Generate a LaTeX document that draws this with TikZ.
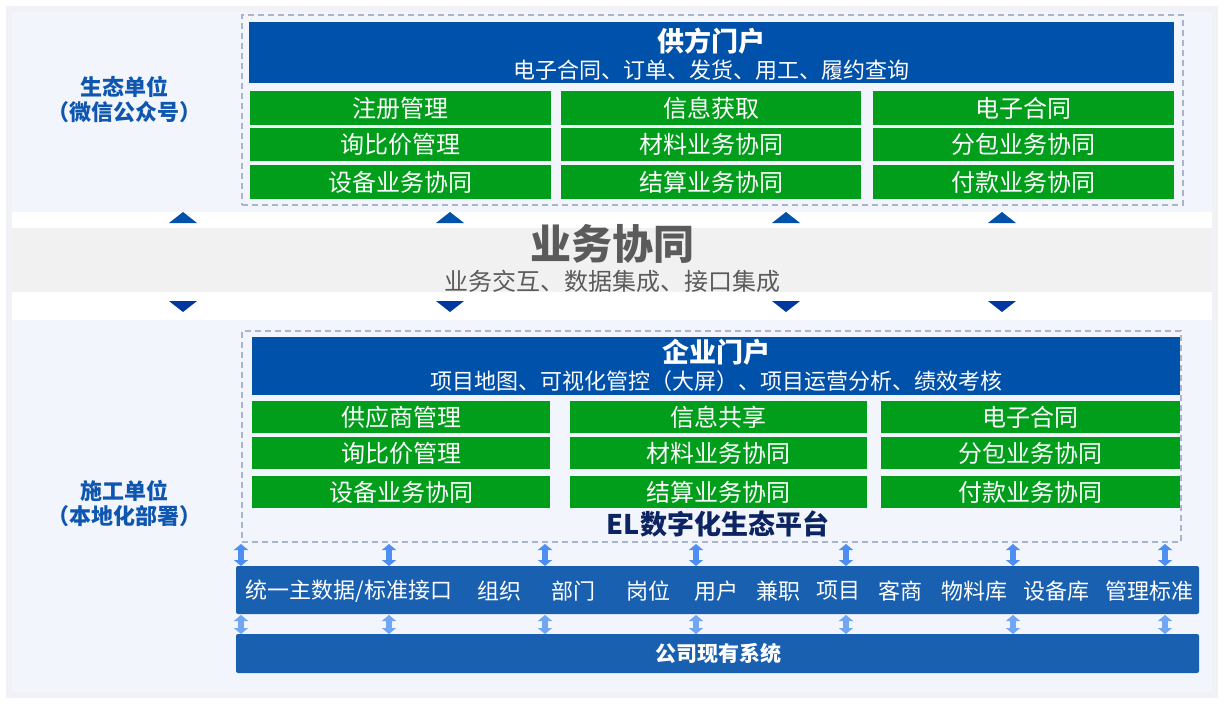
\documentclass[tikz,border=0pt]{standalone}
\usepackage{fontspec}
\setmainfont{Noto Sans CJK SC}
\usetikzlibrary{arrows.meta}

\definecolor{hdblue}{HTML}{0051A9}
\definecolor{cellgreen}{HTML}{009E1A}
\definecolor{barblue}{HTML}{1A60B0}
\definecolor{panelbg}{HTML}{F2F5FB}
\definecolor{shadowgray}{HTML}{F0F2F5}
\definecolor{bandgray}{HTML}{F1F1F1}
\definecolor{dashgray}{HTML}{A9B5CD}
\definecolor{linkblue}{HTML}{4E8EF2}
\definecolor{navy}{HTML}{0C2461}
\definecolor{labelblue}{HTML}{0F56B0}
\definecolor{titlegray}{HTML}{5B5B5B}
\definecolor{downblue}{HTML}{0038A0}

\newcommand{\fs}[1]{\fontsize{#1}{#1}\selectfont}

\begin{document}
\begin{tikzpicture}[x=1pt, y=-1pt, inner sep=0pt, outer sep=0pt,
	header/.style={fill=hdblue, minimum height=#1},
	cell/.style={fill=cellgreen, text=white, minimum height=33pt, font=\fs{24}},
	bar/.style={fill=barblue, rounded corners=2pt, minimum width=963pt},
	group/.style={draw=dashgray, dashed, line width=1.2pt, dash pattern=on 6pt off 4pt},
	sidelabel/.style={text=labelblue, font=\fontsize{22}{25}\selectfont\bfseries, align=center},
	baritem/.style={text=white, font=\fs{22}},
	linkarrow/.style={draw=linkblue, line width=5.5pt, {Triangle[width=14pt,length=6pt]}-{Triangle[width=14pt,length=6pt]}, shorten <=0pt, shorten >=0pt}]

	\useasboundingbox (0,0) rectangle (1224,704);

	% Hintergrund
	\fill[shadowgray] (6,6) rectangle (1218,698);
	\fill[panelbg] (12,12) rectangle (1212,692);
	\fill[white] (12,212) rectangle (1212,228);
	\fill[bandgray] (12,228) rectangle (1212,292);
	\fill[white] (12,292) rectangle (1212,320);

	% Seitentexte
	\node[sidelabel] (eco) at (124,100) {生态单位\\（微信公众号）};
	\node[sidelabel] (site) at (124,504) {施工单位\\（本地化部署）};

	% Lieferantenportal
	\node[group, minimum width=941pt, minimum height=190pt] (supbox) at (712.5,110) {};
	\node[header=61pt, minimum width=925pt] (suphead) at (711.5,52.5) {};
	\node[text=white, font=\fs{27}\bfseries] (suptitle) at (711.5,41) {供方门户};
	\node[text=white, font=\fs{22}] (supsub) at (711.5,70) {电子合同、订单、发货、用工、履约查询};
	\node[cell, minimum width=301pt, minimum height=34pt] (s11) at (400.5,108) {注册管理};
	\node[cell, minimum width=300pt, minimum height=34pt] (s12) at (711,108) {信息获取};
	\node[cell, minimum width=301pt, minimum height=34pt] (s13) at (1023.5,108) {电子合同};
	\node[cell, minimum width=301pt] (s21) at (400.5,144.5) {询比价管理};
	\node[cell, minimum width=300pt] (s22) at (711,144.5) {材料业务协同};
	\node[cell, minimum width=301pt] (s23) at (1023.5,144.5) {分包业务协同};
	\node[cell, minimum width=301pt, minimum height=34pt] (s31) at (400.5,182) {设备业务协同};
	\node[cell, minimum width=300pt, minimum height=34pt] (s32) at (711,182) {结算业务协同};
	\node[cell, minimum width=301pt, minimum height=34pt] (s33) at (1023.5,182) {付款业务协同};

	% Geschaeftszusammenarbeit
	\node[text=titlegray, font=\fs{41}\bfseries] (coop) at (612,244) {业务协同};
	\node[text=titlegray, font=\fs{24}] (coopsub) at (612,281) {业务交互、数据集成、接口集成};
	\foreach \x in {183,450,786,1002} {
		\fill[hdblue] (\x,212) -- (\x+14,223) -- (\x-14,223) -- cycle;
		\fill[downblue] (\x,312) -- (\x+14,301) -- (\x-14,301) -- cycle;
	}

	% Unternehmensportal
	\node[group, minimum width=939pt, minimum height=211pt] (entbox) at (711.5,436.5) {};
	\node[header=58pt, minimum width=928pt] (enthead) at (716,366) {};
	\node[text=white, font=\fs{27}\bfseries] (enttitle) at (716,352) {企业门户};
	\node[text=white, font=\fs{22}] (entsub) at (716,381) {项目地图、可视化管控（大屏）、项目运营分析、绩效考核};
	\node[cell, minimum width=298pt, minimum height=32pt] (e11) at (401,417) {供应商管理};
	\node[cell, minimum width=297pt, minimum height=32pt] (e12) at (718.5,417) {信息共享};
	\node[cell, minimum width=299pt, minimum height=32pt] (e13) at (1030.5,417) {电子合同};
	\node[cell, minimum width=298pt, minimum height=32pt] (e21) at (401,453) {询比价管理};
	\node[cell, minimum width=297pt, minimum height=32pt] (e22) at (718.5,453) {材料业务协同};
	\node[cell, minimum width=299pt, minimum height=32pt] (e23) at (1030.5,453) {分包业务协同};
	\node[cell, minimum width=298pt, minimum height=32pt] (e31) at (401,492) {设备业务协同};
	\node[cell, minimum width=297pt, minimum height=32pt] (e32) at (718.5,492) {结算业务协同};
	\node[cell, minimum width=299pt, minimum height=32pt] (e33) at (1030.5,492) {付款业务协同};
	\node[text=navy, font=\fs{27}\bfseries] (platform) at (718,524) {EL数字化生态平台};

	% Stammdaten und Altsysteme
	\node[bar, minimum height=48pt] (master) at (717.5,590) {};
	\node[bar, minimum height=39pt] (legacy) at (717.5,653.5) {};
	\node[text=white, font=\fs{21}\bfseries] (legacytxt) at (718,653) {公司现有系统};
	\node[baritem] (m1) at (349,591) {统一主数据/标准接口};
	\node[baritem] (m2) at (499,591) {组织};
	\node[baritem] (m3) at (573,591) {部门};
	\node[baritem] (m4) at (648,591) {岗位};
	\node[baritem] (m5) at (716,591) {用户};
	\node[baritem] (m6) at (778,591) {兼职};
	\node[baritem] (m7) at (838,591) {项目};
	\node[baritem] (m8) at (900,591) {客商};
	\node[baritem] (m9) at (974,591) {物料库};
	\node[baritem] (m10) at (1056,591) {设备库};
	\node[baritem] (m11) at (1149,591) {管理标准};

	\foreach \i/\x in {1/241,2/389,3/545,4/696,5/846,6/1013,7/1165} {
		\coordinate (top\i) at (\x,544);
		\coordinate (mtop\i) at (\x,566);
		\coordinate (mbot\i) at (\x,615);
		\coordinate (ltop\i) at (\x,634);
		\draw[linkarrow] (top\i) -- (mtop\i);
		\draw[linkarrow, draw=linkblue!80] (mbot\i) -- (ltop\i);
	}
\end{tikzpicture}
\end{document}
